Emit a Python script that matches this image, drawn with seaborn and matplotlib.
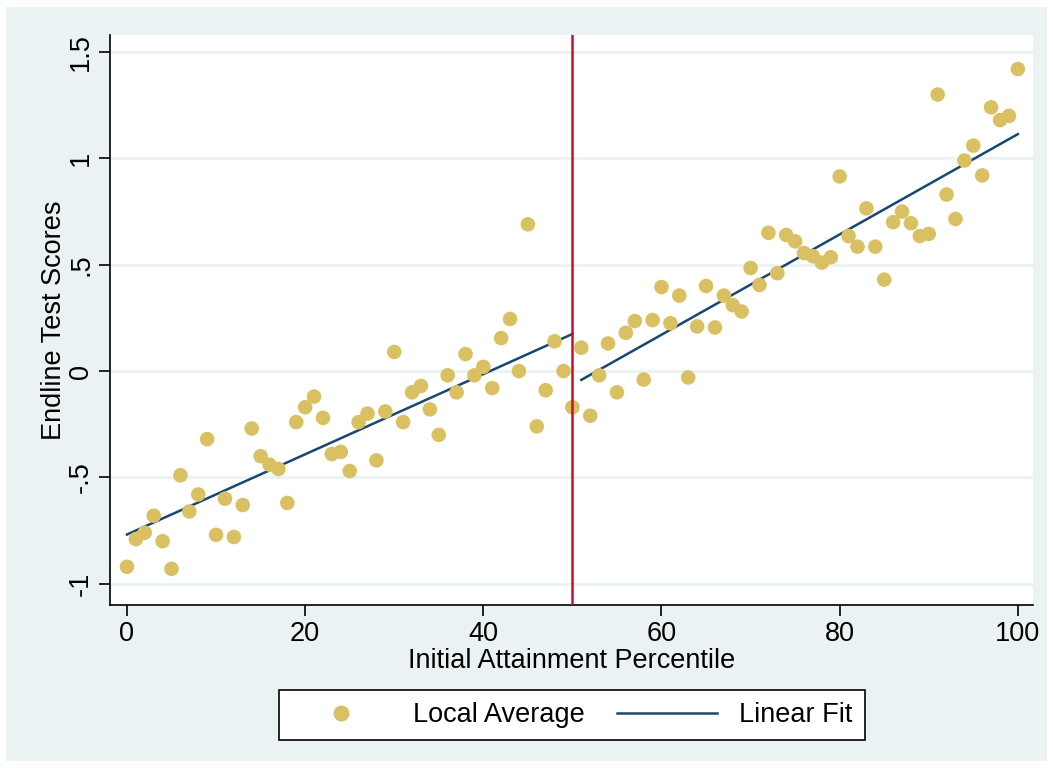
import numpy as np
import pandas as pd
import matplotlib.pyplot as plt
import seaborn as sns
from matplotlib.patches import Rectangle
from matplotlib.lines import Line2D

percentile = list(range(101))
score = [-0.92, -0.79, -0.76, -0.68, -0.80, -0.93, -0.49, -0.66, -0.58, -0.32,
         -0.77, -0.60, -0.78, -0.63, -0.27, -0.40, -0.44, -0.46, -0.62, -0.24,
         -0.17, -0.12, -0.22, -0.39, -0.38, -0.47, -0.24, -0.20, -0.42, -0.19,
         0.09, -0.24, -0.10, -0.07, -0.18, -0.30, -0.02, -0.10, 0.08, -0.02,
         0.02, -0.08, 0.155, 0.245, 0.00, 0.69, -0.26, -0.09, 0.14, 0.00,
         -0.17, 0.11, -0.21, -0.02, 0.13, -0.10, 0.18, 0.235, -0.04, 0.24,
         0.395, 0.225, 0.355, -0.03, 0.21, 0.40, 0.205, 0.355, 0.31, 0.28,
         0.485, 0.405, 0.65, 0.46, 0.64, 0.61, 0.555, 0.54, 0.51, 0.535,
         0.915, 0.635, 0.585, 0.765, 0.585, 0.43, 0.70, 0.75, 0.695, 0.635,
         0.645, 1.30, 0.83, 0.715, 0.99, 1.06, 0.92, 1.24, 1.18, 1.20,
         1.42]
cutoff = 50

df = pd.DataFrame({'pct': percentile, 'score': score})
left = df[df['pct'] <= cutoff]
right = df[df['pct'] > cutoff]

dot_color = '#D9C163'
fit_color = '#1A476F'
bg = '#EAF2F3'
fs = 19.5

plt.rcParams['font.family'] = ['Liberation Sans', 'DejaVu Sans']
fig = plt.figure(figsize=(10.53, 7.68), dpi=100, facecolor='white')
fig.patches.append(Rectangle((6 / 1053, 7 / 768), 1041 / 1053, 754 / 768,
                             transform=fig.transFigure, facecolor=bg,
                             edgecolor='none', zorder=-10))
ax = fig.add_axes([0.1045, 0.2122, 0.8765, 0.7422])
ax.set_facecolor('white')

for y in [-1, -0.5, 0, 0.5, 1, 1.5]:
    ax.axhline(y, color=bg, lw=2, zorder=0)

sns.scatterplot(data=df, x='pct', y='score', ax=ax, color=dot_color, s=110,
                edgecolor='none', zorder=3)
for part in [left, right]:
    sns.regplot(data=part, x='pct', y='score', ax=ax, scatter=False, ci=None,
                line_kws={'color': fit_color, 'lw': 1.8}, truncate=True)
ax.axvline(cutoff, color='#C8102E', lw=1.8, zorder=4)

ax.set_xlim(-1.9, 101.7)
ax.set_ylim(-1.10, 1.58)
ax.set_xticks([0, 20, 40, 60, 80, 100])
ax.set_yticks([-1, -0.5, 0, 0.5, 1, 1.5])
ax.set_yticklabels(['-1', '-.5', '0', '.5', '1', '1.5'], rotation=90, va='center')
ax.tick_params(labelsize=fs, length=8, width=1.2, colors='black')
for s in ['top', 'right']:
    ax.spines[s].set_visible(False)
for s in ['left', 'bottom']:
    ax.spines[s].set_linewidth(1.2)
ax.set_xlabel('Initial Attainment Percentile', fontsize=fs, labelpad=1)
ax.set_ylabel('Endline Test Scores', fontsize=fs, labelpad=1)

handles = [Line2D([], [], marker='o', ls='none', color=dot_color, markersize=10.5),
           Line2D([], [], color=fit_color, lw=1.8)]
leg = fig.legend(handles, ['Local Average', 'Linear Fit'], loc='center',
                 bbox_to_anchor=(0.543, 0.069), ncol=2, fontsize=fs,
                 frameon=True, fancybox=False, edgecolor='black',
                 columnspacing=1.2, handlelength=3.7, handletextpad=0.8,
                 borderpad=0.45, borderaxespad=0)
leg.get_frame().set_linewidth(1.2)
leg.get_frame().set_facecolor('white')
leg.get_frame().set_alpha(1)

fig.savefig('out.png', dpi=100, facecolor='white')
